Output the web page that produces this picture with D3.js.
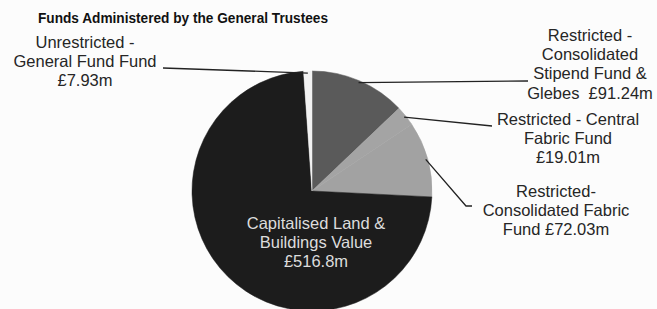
<!DOCTYPE html>
<html>
<head>
<meta charset="utf-8">
<script src="https://cdn.jsdelivr.net/npm/d3@7"></script>
<style>
  html, body { margin: 0; padding: 0; background: #fcfcfc; }
  svg { display: block; font-family: Arial, "Liberation Sans", sans-serif; }
  text { white-space: pre; }
</style>
</head>
<body>
<svg id="viz" width="657" height="309"></svg>
<script>
// data
const funds = ["Stipend", "CentralFabric", "ConsolidatedFabric", "Capitalised", "Unrestricted"];
const values = [91.24, 19.01, 72.03, 516.8, 7.93];
const labelLines = [
  ["Restricted -", "Consolidated", "Stipend Fund &", "Glebes  £91.24m"],
  ["Restricted - Central", "Fabric Fund", "£19.01m"],
  ["Restricted-", "Consolidated Fabric", "Fund £72.03m"],
  ["Capitalised Land &", "Buildings Value", "£516.8m"],
  ["Unrestricted -", "General Fund Fund", "£7.93m"]
];
const fills = ["#5a5a5a", "#a4a4a4", "#a2a2a2", "#1c1c1c", "#f2f2f2"];

// layout
const CX = 312, CY = 191, R = 120;
const labelPos = [
  { x: 590, y: 41, leader: [[528, 81]] },
  { x: 568, y: 125, leader: [[492, 126]] },
  { x: 556, y: 197, leader: [[466, 206], [472, 206]] },
  { x: 316, y: 229, leader: null },
  { x: 85, y: 48, leader: [[163, 68]] }
];
const LINE_H = 19.2;

const svg = d3.select("#viz");

svg.append("text")
  .attr("x", 38).attr("y", 23)
  .attr("font-size", 15).attr("font-weight", "bold")
  .attr("fill", "#111")
  .attr("textLength", 290)
  .attr("lengthAdjust", "spacingAndGlyphs")
  .text("Funds Administered by the General Trustees");

const rows = funds.map((f, i) => ({ fund: f, value: values[i], lines: labelLines[i], fill: fills[i], pos: labelPos[i] }));

const pie = d3.pie().sort(null).value(d => d.value);
const arcs = pie(rows);

const arc = d3.arc().innerRadius(0).outerRadius(R);
const edge = d3.arc().innerRadius(R - 2).outerRadius(R - 2);

const g = svg.append("g").attr("transform", `translate(${CX},${CY})`);

g.selectAll("path.slice")
  .data(arcs)
  .join("path")
  .attr("class", "slice")
  .attr("d", arc)
  .attr("fill", d => d.data.fill)
  .attr("stroke", d => d.data.fill)
  .attr("stroke-width", 0.5);

// leader lines
const line = d3.line();
arcs.forEach(a => {
  const p = a.data.pos;
  if (!p.leader) return;
  const [sx, sy] = edge.centroid(a);
  const pts = [[sx + CX, sy + CY]].concat(p.leader);
  svg.append("path")
    .attr("d", line(pts))
    .attr("fill", "none")
    .attr("stroke", "#222")
    .attr("stroke-width", 1.3);
});

// labels
arcs.forEach(a => {
  const p = a.data.pos;
  const inside = !p.leader;
  const t = svg.append("text")
    .attr("text-anchor", "middle")
    .attr("font-size", 16.5)
    .attr("fill", inside ? "#dcdcdc" : "#262626");
  a.data.lines.forEach((l, i) => {
    t.append("tspan")
      .attr("x", p.x)
      .attr("y", p.y + i * LINE_H)
      .text(l);
  });
});
</script>
</body>
</html>
